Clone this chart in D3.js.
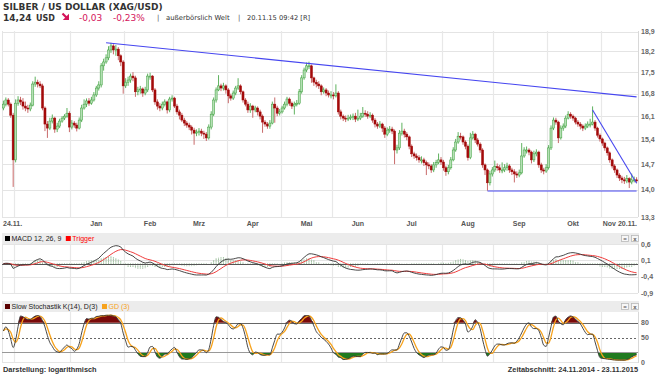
<!DOCTYPE html>
<html>
<head>
<meta charset="utf-8">
<script src="https://cdn.jsdelivr.net/npm/d3@7"></script>
<style>
  body { margin: 0; background: #fff; }
  svg { display: block; }
</style>
</head>
<body>
<div id="chart-area"></div>
<script>
// daily closes, 24.11.2014 - 20.11.2015 (weekdays)
var closes = [
  16.47,16.60,16.47,16.13,14.82,16.50,16.60,16.54,16.41,16.35,
  16.32,16.44,17.11,17.17,17.11,17.05,16.35,15.86,15.74,15.95,
  16.04,15.71,15.80,15.95,16.04,16.10,16.19,15.77,15.89,15.83,
  15.74,15.98,16.35,16.47,16.57,16.50,16.60,16.76,16.98,17.08,
  17.71,17.84,17.98,18.25,18.39,18.25,18.28,18.05,17.84,17.05,
  17.17,17.24,17.37,17.31,16.86,16.92,16.95,16.82,16.92,17.37,
  17.37,16.92,16.54,16.41,16.35,16.47,16.54,16.29,16.63,16.66,
  16.41,16.23,16.13,15.98,15.89,15.83,15.77,15.68,15.59,15.62,
  15.65,15.59,15.56,15.45,15.77,16.16,16.60,16.92,17.05,16.98,
  17.05,16.92,16.73,16.66,16.82,16.98,17.05,16.86,16.60,16.47,
  16.29,16.41,16.29,16.35,16.23,16.10,15.92,15.86,15.80,15.89,
  16.47,16.35,16.19,16.23,16.35,16.47,16.63,16.50,16.41,16.47,
  16.50,16.86,17.31,17.57,17.71,17.71,17.31,17.17,17.11,17.05,
  16.86,16.92,16.82,16.76,16.76,16.73,16.82,16.23,16.10,16.04,
  16.01,16.04,16.07,16.10,16.01,16.04,16.10,16.19,16.16,16.10,
  16.13,15.98,15.86,15.80,15.86,15.74,15.56,15.68,15.71,15.65,
  15.10,15.16,15.59,15.65,15.56,15.48,15.21,14.99,14.93,14.88,
  14.82,14.82,14.74,14.68,14.65,14.54,14.68,14.74,14.82,14.76,
  14.60,14.49,14.60,14.82,15.10,15.33,15.50,15.48,15.33,15.21,
  14.88,15.45,15.56,15.39,15.27,15.10,14.68,14.54,14.19,14.43,
  14.54,14.63,14.60,14.54,14.54,14.60,14.65,14.54,14.49,14.43,
  14.40,14.46,14.93,15.10,15.10,15.04,14.82,14.99,15.04,14.68,
  14.54,14.51,14.60,15.16,15.74,15.98,15.92,15.45,15.74,15.80,
  16.04,16.16,16.10,16.04,15.92,15.86,15.80,15.74,15.80,15.86,
  15.86,15.92,15.74,15.53,15.42,15.30,15.16,15.02,14.82,14.65,
  14.54,14.40,14.32,14.27,14.24,14.30,14.21,14.27,14.27,14.24
];
var highs = [
  16.58,16.68,16.66,16.52,16.20,16.62,16.72,16.70,16.66,16.55,
  16.45,16.52,17.20,17.35,17.25,17.20,17.12,16.40,15.95,16.05,
  16.15,16.08,15.90,16.02,16.10,16.16,16.35,16.25,15.98,15.95,
  15.90,16.06,16.45,16.62,16.65,16.66,16.70,16.85,17.05,17.20,
  17.80,17.95,18.10,18.38,18.50,18.45,18.42,18.35,18.10,17.90,
  17.30,17.35,17.45,17.50,17.38,17.02,17.05,17.00,17.02,17.45,
  17.48,17.40,16.98,16.62,16.50,16.55,16.62,16.58,16.70,16.75,
  16.70,16.48,16.30,16.20,16.05,15.95,15.90,15.82,15.75,15.70,
  15.74,15.72,15.66,15.62,15.85,16.25,16.68,17.00,17.40,17.12,
  17.15,17.10,16.98,16.80,16.90,17.05,17.30,17.10,16.90,16.66,
  16.55,16.50,16.45,16.42,16.40,16.30,16.15,15.98,15.92,15.98,
  16.55,16.68,16.42,16.32,16.42,16.55,16.70,16.68,16.55,16.55,
  16.60,16.95,17.40,17.65,17.82,17.85,17.75,17.35,17.25,17.20,
  17.10,17.00,16.98,16.90,16.88,16.85,17.10,16.88,16.30,16.15,
  16.12,16.14,16.15,16.18,16.20,16.30,16.20,16.38,16.28,16.25,
  16.22,16.18,16.04,15.92,15.95,15.90,15.80,15.76,15.80,15.78,
  15.70,15.25,15.68,15.90,15.72,15.62,15.52,15.26,15.05,15.00,
  14.95,14.92,14.88,14.80,14.75,14.70,14.76,14.82,15.00,14.90,
  14.82,14.66,14.68,14.90,15.18,15.42,15.62,15.60,15.52,15.38,
  15.26,15.60,15.65,15.60,15.45,15.32,15.15,14.72,14.58,14.52,
  14.62,14.80,14.72,14.68,14.75,14.70,14.74,14.70,14.60,14.56,
  14.50,14.55,15.30,15.18,15.20,15.15,15.08,15.08,15.12,15.08,
  14.74,14.60,14.70,15.24,15.82,16.06,16.05,15.96,15.82,15.88,
  16.12,16.25,16.22,16.15,16.08,15.98,15.92,15.85,15.88,15.94,
  16.02,16.40,15.98,15.78,15.58,15.46,15.34,15.20,15.06,14.86,
  14.70,14.58,14.45,14.38,14.35,14.40,14.34,14.44,14.36,14.34
];
var lows = [
  16.28,16.40,16.40,16.05,14.08,14.75,16.42,16.44,16.30,16.25,
  16.20,16.25,16.40,17.02,17.00,16.98,16.28,15.65,15.45,15.68,
  15.88,15.60,15.62,15.74,15.90,15.98,16.05,15.62,15.70,15.75,
  15.64,15.70,15.92,16.30,16.38,16.42,16.45,16.55,16.70,16.90,
  17.00,17.55,17.78,17.90,18.15,18.10,18.05,17.90,17.70,16.80,
  16.98,17.05,17.15,17.20,16.70,16.75,16.80,16.70,16.75,16.85,
  17.25,16.85,16.45,16.30,16.25,16.28,16.40,16.18,16.22,16.55,
  16.35,16.15,16.00,15.92,15.80,15.75,15.68,15.55,15.25,15.50,
  15.52,15.50,15.42,15.36,15.40,15.70,16.10,16.52,16.88,16.88,
  16.90,16.80,16.50,16.58,16.60,16.75,16.92,16.78,16.52,16.40,
  16.20,16.20,16.05,16.22,16.12,16.00,15.60,15.78,15.72,15.72,
  15.85,15.90,16.10,16.12,16.18,16.30,16.40,16.42,16.32,16.15,
  16.40,16.45,16.80,17.25,17.50,17.60,17.15,17.05,17.00,16.95,
  16.75,16.80,16.72,16.68,16.65,16.62,16.68,16.15,16.00,15.95,
  15.92,15.95,15.98,15.98,15.92,15.95,15.98,16.05,16.08,16.02,
  16.04,15.90,15.76,15.72,15.74,15.62,15.45,15.50,15.60,15.56,
  14.70,15.00,15.10,15.52,15.46,15.38,15.12,14.90,14.85,14.80,
  14.74,14.72,14.65,14.40,14.56,14.46,14.48,14.60,14.70,14.68,
  14.52,14.38,14.42,14.55,14.78,15.05,15.28,15.40,15.25,15.12,
  14.80,14.84,15.40,15.30,15.20,15.02,14.60,14.40,13.98,14.12,
  14.36,14.48,14.52,14.46,14.45,14.48,14.52,14.46,14.40,14.20,
  14.32,14.34,14.42,14.88,15.00,14.95,14.72,14.76,14.92,14.60,
  14.46,14.42,14.46,14.55,15.10,15.68,15.84,15.30,15.40,15.66,
  15.74,16.00,16.02,15.96,15.85,15.78,15.70,15.65,15.68,15.74,
  15.76,15.82,15.66,15.46,15.34,15.22,15.08,14.94,14.74,14.58,
  14.46,14.32,14.24,14.18,14.16,14.18,14.05,14.15,14.20,14.18
];
var firstOpen = 16.35;

var priceTicks = [13.3, 14.0, 14.7, 15.4, 16.1, 16.8, 17.5, 18.2, 18.9];
var macdTicks = [0.6, 0.1, -0.4, -0.9];
var stochTicks = [80, 50, 0];
var monthLabels = [
  ["2015-01-15", "Jan"], ["2015-02-16", "Feb"], ["2015-03-16", "Mrz"],
  ["2015-04-15", "Apr"], ["2015-05-15", "Mai"], ["2015-06-15", "Jun"],
  ["2015-07-15", "Jul"], ["2015-08-17", "Aug"], ["2015-09-15", "Sep"],
  ["2015-10-15", "Okt"]
];
// drawn trend lines: [date, price] pairs
var trendLines = [
  [["2015-01-21", 18.50], ["2015-11-20", 16.70]],
  [["2015-10-27", 16.29], ["2015-11-20", 14.18]],
  [["2015-08-27", 13.97], ["2015-11-20", 13.97]]
];

var fmtDay = d3.timeFormat("%Y-%m-%d");
var dates = [];
for (var d = new Date(2014, 10, 24); d <= new Date(2015, 10, 20); d.setDate(d.getDate() + 1)) {
  if (d.getDay() !== 0 && d.getDay() !== 6) dates.push(fmtDay(d));
}

var bars = dates.map(function(day, i) {
  return { date: day, open: i ? closes[i - 1] : firstOpen, high: highs[i], low: lows[i], close: closes[i] };
});

var left = 2, right = 638;
var svg = d3.select("#chart-area").append("svg")
    .attr("width", 655)
    .attr("height", 374)
    .style("font-family", "'Liberation Sans', Arial, sans-serif");

var x = d3.scaleBand().domain(dates).range([left, right]).padding(0.15);
var cx = function(day) { return x(day) + x.bandwidth() / 2; };
var y = d3.scaleLog().domain([13.3, 18.9]).range([217, 31.5]);
var yMacd = d3.scaleLinear().domain([-0.9, 0.6]).range([293, 244]);
var yStoch = d3.scaleLinear().domain([0, 100]).range([362, 313]);

var monthStarts = dates.filter(function(day, i) { return i > 0 && day.slice(5, 7) !== dates[i - 1].slice(5, 7); });
var gridX = function(day) { return Math.round(x(day) - x.step() * 0.15) + 0.5; };

// ---------- header ----------
svg.append("text").attr("x", 3).attr("y", 10)
    .style("font-family", "'DejaVu Sans', Verdana, sans-serif")
    .attr("font-size", 9).attr("font-weight", "bold").attr("fill", "#333")
    .text("SILBER / US DOLLAR (XAG/USD)");

var hdr = svg.append("g").style("font-family", "'DejaVu Sans', Verdana, sans-serif");
hdr.append("text").attr("x", 3).attr("y", 21).attr("font-size", 9).attr("font-weight", "bold").attr("fill", "#333").text("14,24");
hdr.append("text").attr("x", 36).attr("y", 21).attr("font-size", 8).attr("font-weight", "bold").attr("fill", "#333").text("USD");
hdr.append("path").attr("d", "M62.5,13.5 L67,18").attr("stroke", "#d4145a").attr("stroke-width", 2.2);
hdr.append("path").attr("d", "M69,13.8 L69,20 L62.8,20 Z").attr("fill", "#d4145a");
hdr.append("text").attr("x", 79).attr("y", 21).attr("font-size", 9).attr("fill", "#d4145a").text("-0,03");
hdr.append("text").attr("x", 113).attr("y", 21).attr("font-size", 9).attr("fill", "#d4145a").text("-0,23%");
hdr.append("text").attr("x", 157).attr("y", 20).attr("font-size", 7).attr("fill", "#555").text("|");
hdr.append("text").attr("x", 166).attr("y", 20).attr("font-size", 6.8).attr("fill", "#333").text("außerbörslich Welt");
hdr.append("text").attr("x", 238).attr("y", 20).attr("font-size", 7).attr("fill", "#555").text("|");
hdr.append("text").attr("x", 247).attr("y", 20).attr("font-size", 6.7).attr("fill", "#333").text("20.11.15 09:42 [R]");

// ---------- main price panel ----------
var main = svg.append("g");
main.selectAll(".hgrid").data(priceTicks).enter().append("line")
    .attr("x1", left).attr("x2", right)
    .attr("y1", function(v) { return Math.round(y(v)) + 0.5; })
    .attr("y2", function(v) { return Math.round(y(v)) + 0.5; })
    .attr("stroke", "#e4e4e4").attr("stroke-width", 1.2);
main.selectAll(".vgrid").data(monthStarts).enter().append("line")
    .attr("x1", gridX).attr("x2", gridX)
    .attr("y1", 31).attr("y2", 217)
    .attr("stroke", "#e8e8e8").attr("stroke-width", 1.2);
main.append("line").attr("x1", left + 0.5).attr("x2", left + 0.5).attr("y1", 31).attr("y2", 217).attr("stroke", "#e4e4e4");
main.append("line").attr("x1", right + 0.5).attr("x2", right + 0.5).attr("y1", 31).attr("y2", 217).attr("stroke", "#d8d8d8");

var candles = main.selectAll(".candle").data(bars).enter().append("g");
candles.append("line")
    .attr("x1", function(b) { return cx(b.date); })
    .attr("x2", function(b) { return cx(b.date); })
    .attr("y1", function(b) { return y(b.high); })
    .attr("y2", function(b) { return y(b.low); })
    .attr("stroke", function(b) { return b.close >= b.open ? "#5fb25f" : "#c86a6a"; })
    .attr("stroke-width", 1);
candles.append("rect")
    .attr("x", function(b) { return x(b.date); })
    .attr("width", x.bandwidth())
    .attr("y", function(b) { return y(Math.max(b.open, b.close)); })
    .attr("height", function(b) { return Math.max(1, Math.abs(y(b.open) - y(b.close))); })
    .attr("fill", function(b) { return b.close >= b.open ? "#b5e0b5" : "#a30a0a"; })
    .attr("stroke", function(b) { return b.close >= b.open ? "#3a9e3a" : "#a30a0a"; })
    .attr("stroke-width", 0.5);

var trend = d3.line()
    .x(function(p) { return cx(p[0]); })
    .y(function(p) { return y(p[1]); });
main.selectAll(".trend").data(trendLines).enter().append("path")
    .attr("d", trend)
    .attr("fill", "none").attr("stroke", "#4646f0").attr("stroke-width", 1.1);

main.selectAll(".ylab").data(priceTicks).enter().append("text")
    .attr("x", 641).attr("y", function(v) { return y(v) + 2.5; })
    .attr("font-size", 7).attr("font-weight", "bold").attr("fill", "#666")
    .text(function(v) { return d3.format(".1f")(v).replace(".", ","); });

// x-axis labels
var xlab = svg.append("g").attr("font-size", 7).attr("font-weight", "bold").attr("fill", "#555");
xlab.selectAll(".mlab").data(monthLabels).enter().append("text")
    .attr("x", function(m) { return cx(m[0]); }).attr("y", 226)
    .attr("text-anchor", "middle").text(function(m) { return m[1]; });
xlab.append("text").attr("x", 3).attr("y", 226).text("24.11.");
xlab.append("text").attr("x", 616).attr("y", 226).attr("text-anchor", "end").text("Nov");
xlab.append("text").attr("x", 637).attr("y", 226).attr("text-anchor", "end").text("20.11.");

// ---------- indicator helpers ----------
function ema(arr, n) {
  var k = 2 / (n + 1), prev = arr[0];
  return arr.map(function(v, i) { prev = i ? v * k + prev * (1 - k) : v; return prev; });
}
function sma(arr, n) {
  return arr.map(function(v, i) { var s = arr.slice(Math.max(0, i - n + 1), i + 1); return d3.mean(s); });
}

function panelHeader(top, items) {
  var g = svg.append("g");
  g.append("rect").attr("x", left).attr("y", top).attr("width", right - left + 1).attr("height", 11).attr("fill", "#ececec");
  var px = 5;
  items.forEach(function(it) {
    g.append("rect").attr("x", px).attr("y", top + 3).attr("width", 5).attr("height", 5).attr("fill", it.color);
    var t = g.append("text").attr("x", px + 6.5).attr("y", top + 8.3).attr("font-size", 7)
        .attr("fill", it.text).text(it.label);
    px = px + 6.5 + t.node().getComputedTextLength() + 4.5;
  });
  [621, 631].forEach(function(bx, k) {
    g.append("rect").attr("x", bx + 0.5).attr("y", top + 2.5).attr("width", 7).attr("height", 6)
        .attr("fill", "#f7f7f7").attr("stroke", "#b8b8b8").attr("stroke-width", 0.8);
    g.append("text").attr("x", bx + 4).attr("y", top + 7.8).attr("text-anchor", "middle")
        .attr("font-size", 6).attr("font-weight", "bold").attr("fill", "#555").text(k ? "x" : "=");
  });
}

function vGrid(g, y1, y2) {
  g.selectAll(".vg").data(monthStarts).enter().append("line")
      .attr("x1", gridX).attr("x2", gridX).attr("y1", y1).attr("y2", y2)
      .attr("stroke", "#e8e8e8").attr("stroke-width", 1.2);
  g.append("line").attr("x1", left + 0.5).attr("x2", left + 0.5).attr("y1", y1).attr("y2", y2).attr("stroke", "#e4e4e4");
  g.append("line").attr("x1", right + 0.5).attr("x2", right + 0.5).attr("y1", y1).attr("y2", y2).attr("stroke", "#d8d8d8");
}

// ---------- MACD ----------
var ema12 = ema(closes, 12), ema26 = ema(closes, 26);
var macd = closes.map(function(c, i) { return ema12[i] - ema26[i]; });
var trigger = ema(macd, 9);

panelHeader(233, [
  { color: "#000", text: "#222", label: "MACD 12, 26, 9" },
  { color: "#f00", text: "#f00", label: "Trigger" }
]);
var mg = svg.append("g");
vGrid(mg, 244, 293);
mg.selectAll(".mh").data(macdTicks).enter().append("line")
    .attr("x1", left).attr("x2", right)
    .attr("y1", function(v) { return Math.round(yMacd(v)) + 0.5; })
    .attr("y2", function(v) { return Math.round(yMacd(v)) + 0.5; })
    .attr("stroke", "#e4e4e4").attr("stroke-width", 1.2);
mg.selectAll(".hist").data(dates).enter().append("line")
    .attr("x1", cx).attr("x2", cx)
    .attr("y1", yMacd(0))
    .attr("y2", function(day, i) { return yMacd(macd[i] - trigger[i]); })
    .attr("stroke", "#5f965f").attr("stroke-width", 1).attr("stroke-dasharray", "1,1");
mg.append("line").attr("x1", left).attr("x2", right)
    .attr("y1", Math.round(yMacd(0)) + 0.5).attr("y2", Math.round(yMacd(0)) + 0.5)
    .attr("stroke", "#555").attr("stroke-width", 1);
var mline = d3.line().x(function(v, i) { return cx(dates[i]); }).y(function(v) { return yMacd(v); });
mg.append("path").attr("d", mline(trigger)).attr("fill", "none").attr("stroke", "#f03c3c").attr("stroke-width", 1);
mg.append("path").attr("d", mline(macd)).attr("fill", "none").attr("stroke", "#333").attr("stroke-width", 0.9);
mg.selectAll(".ml").data(macdTicks).enter().append("text")
    .attr("x", 641).attr("y", function(v) { return yMacd(v) + 2.5; })
    .attr("font-size", 7).attr("font-weight", "bold").attr("fill", "#666")
    .text(function(v) { return d3.format(".1f")(v).replace(".", ",").replace("−", "-"); });

// ---------- Slow Stochastic ----------
var fastK = closes.map(function(c, i) {
  var lo = d3.min(lows.slice(Math.max(0, i - 13), i + 1));
  var hi = d3.max(highs.slice(Math.max(0, i - 13), i + 1));
  return hi > lo ? 100 * (c - lo) / (hi - lo) : 50;
});
var slowK = sma(fastK, 3);
var slowD = sma(slowK, 3);

panelHeader(301, [
  { color: "#5a0000", text: "#222", label: "Slow Stochastik K(14), D(3)" },
  { color: "#f7a21b", text: "#f7a21b", label: "GD (3)" }
]);
var sg = svg.append("g");
vGrid(sg, 312, 363);
sg.append("line").attr("x1", left).attr("x2", right).attr("y1", 362.5).attr("y2", 362.5).attr("stroke", "#e4e4e4");
var sx = function(v, i) { return cx(dates[i]); };
sg.append("path")
    .attr("d", d3.area().x(sx).y0(yStoch(80)).y1(function(v) { return yStoch(Math.max(v, 80)); })(slowK))
    .attr("fill", "#7a0a0a");
sg.append("path")
    .attr("d", d3.area().x(sx).y0(yStoch(20)).y1(function(v) { return yStoch(Math.min(v, 20)); })(slowK))
    .attr("fill", "#1f7a1f");
[[80, "#666", null], [50, "#666", "2,2"], [20, "#999", null]].forEach(function(l) {
  sg.append("line").attr("x1", left).attr("x2", right)
      .attr("y1", Math.round(yStoch(l[0])) + 0.5).attr("y2", Math.round(yStoch(l[0])) + 0.5)
      .attr("stroke", l[1]).attr("stroke-width", 1).attr("stroke-dasharray", l[2]);
});
var sline = d3.line().x(sx).y(function(v) { return yStoch(v); }).curve(d3.curveMonotoneX);
sg.append("path").attr("d", sline(slowD)).attr("fill", "none").attr("stroke", "#f7a21b").attr("stroke-width", 1.3);
sg.append("path").attr("d", sline(slowK)).attr("fill", "none").attr("stroke", "#333").attr("stroke-width", 0.9);
sg.selectAll(".sl").data(stochTicks).enter().append("text")
    .attr("x", 641).attr("y", function(v) { return yStoch(v) + 2.5; })
    .attr("font-size", 7).attr("font-weight", "bold").attr("fill", "#666")
    .text(function(v) { return v; });

// ---------- footer ----------
svg.append("text").attr("x", 3).attr("y", 372).attr("font-size", 7.4).attr("font-weight", "bold").attr("fill", "#333")
    .text("Darstellung: logarithmisch");
svg.append("text").attr("x", 638).attr("y", 372).attr("text-anchor", "end")
    .attr("font-size", 7.4).attr("font-weight", "bold").attr("fill", "#333")
    .text("Zeitabschnitt: 24.11.2014 - 23.11.2015");
</script>
</body>
</html>
